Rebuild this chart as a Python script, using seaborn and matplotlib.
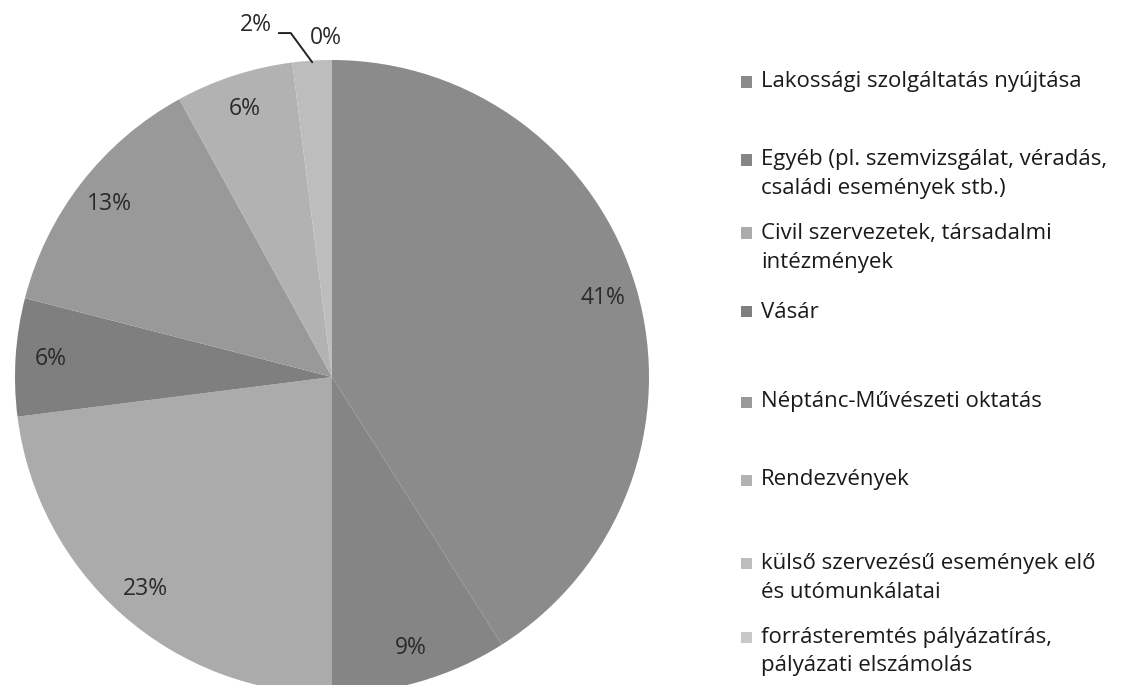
import matplotlib
matplotlib.use("Agg")
import matplotlib.pyplot as plt
import matplotlib.patches as mpatches
import numpy as np
import seaborn as sns

# --- adatok ---
kategoriak = [
    "Lakossági szolgáltatás nyújtása",
    "Egyéb (pl. szemvizsgálat, véradás,\ncsaládi események stb.)",
    "Civil szervezetek, társadalmi\nintézmények",
    "Vásár",
    "Néptánc-Művészeti oktatás",
    "Rendezvények",
    "külső szervezésű események elő\nés utómunkálatai",
    "forrásteremtés pályázatírás,\npályázati elszámolás",
]
aranyok = [41, 9, 23, 6, 13, 6, 2, 0]
szinek = ["#8b8b8b", "#858585", "#ababab", "#7f7f7f",
          "#999999", "#b2b2b2", "#bdbdbd", "#c8c8c8"]

# jelmagyarázat sorai (első sor középvonala, pixel felülről)
legend_y = [82, 160, 233, 312, 402, 480, 563, 637]

sns.set_theme(style="white")
plt.rcParams["font.family"] = ["Open Sans", "DejaVu Sans"]

W, H = 1130, 685
fig = plt.figure(figsize=(W / 100, H / 100), dpi=100)

# kör: középpont (332, 377) px, sugár 317 px
cx, cy, r = 332, 377, 317
ax = fig.add_axes([(cx - r) / W, (H - cy - r) / H, 2 * r / W, 2 * r / H])

wedges, texts, pcts = ax.pie(
    aranyok, colors=szinek, startangle=90, counterclock=False,
    autopct="%1.0f%%", pctdistance=0.89,
    wedgeprops=dict(linewidth=0),
    textprops=dict(fontsize=16.5, color="#2a2a2a"),
)
ax.set_xlim(-1, 1)
ax.set_ylim(-1, 1)
ax.set_aspect("equal")
ax.axis("off")

# a kis szeletek feliratai kívül
w2 = wedges[6]
mid = np.deg2rad((w2.theta1 + w2.theta2) / 2)
ex, ey = np.cos(mid), np.sin(mid)
ax.plot([-0.168, -0.13, ex * 0.995], [1.085, 1.085, ey * 0.995],
        color="#222222", lw=1.4, clip_on=False)
pcts[6].set_position((-0.24, 1.11))
pcts[7].set_position((-0.02, 1.07))
for t in pcts:
    t.set_clip_on(False)

# jelmagyarázat
for kat, szin, y in zip(kategoriak, szinek, legend_y):
    fig.patches.append(mpatches.Rectangle(
        (741 / W, 1 - (y + 5.5) / H), 11 / W, 11 / H,
        transform=fig.transFigure, facecolor=szin, edgecolor="none"))
    for j, sor in enumerate(kat.split("\n")):
        fig.text(761 / W, 1 - (y + j * 29) / H, sor, fontsize=16,
                 color="#1a1a1a", va="center", ha="left")

fig.savefig("out.png", dpi=100, facecolor="white")
